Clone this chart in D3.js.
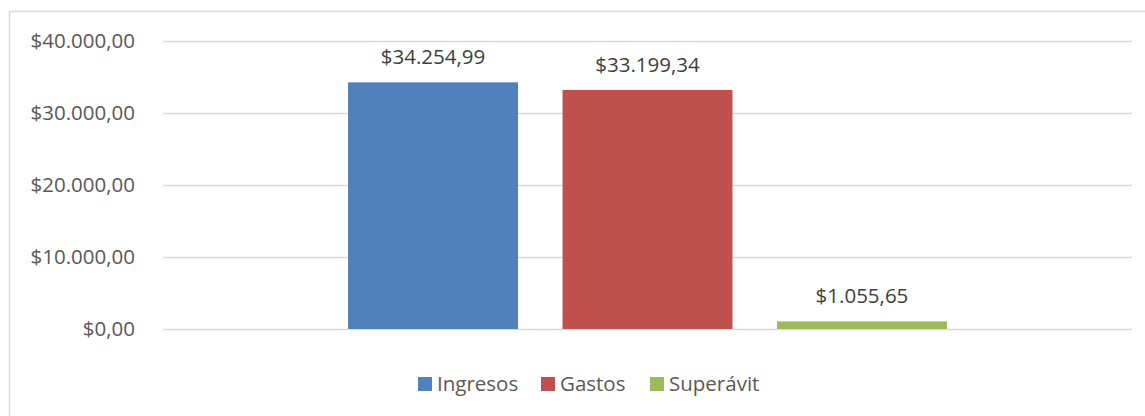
<!DOCTYPE html>
<html>
<head>
<meta charset="utf-8">
<script src="https://cdn.jsdelivr.net/npm/d3@7"></script>
<style>
  body { margin: 0; background: #fff; }
  text { font-family: "Open Sans", sans-serif; }
</style>
</head>
<body>
<div id="vis"></div>
<script>
// Chart data
const series = ["Ingresos", "Gastos", "Superávit"];
const values = [34254.99, 33199.34, 1055.65];
const colors = ["#4F81BD", "#C0504D", "#9BBB59"];
const yTicks = [0, 10000, 20000, 30000, 40000];

const width = 1145;
const height = 416;
const margin = { top: 41, right: 13, bottom: 87, left: 163 };
const fontSize = "20.5px";

const fmt = v => "$" + d3.format(",.2f")(v).replace(/,/g, "X").replace(".", ",").replace(/X/g, ".");

const svg = d3.select("#vis")
  .append("svg")
  .attr("width", width)
  .attr("height", height);

// chart area border
svg.append("rect")
  .attr("x", 9.5)
  .attr("y", 11.5)
  .attr("width", 1145)
  .attr("height", 420)
  .attr("fill", "none")
  .attr("stroke", "#D9D9D9")
  .attr("stroke-width", 1.5);

const yScale = d3.scaleLinear()
  .domain([0, 40000])
  .range([height - margin.bottom, margin.top]);

// single category, series grouped inside it
const x0 = d3.scaleBand()
  .domain(["total"])
  .range([margin.left, width - margin.right])
  .paddingInner(0)
  .paddingOuter(0.309);

const x1 = d3.scaleBand()
  .domain(series)
  .range([0, x0.bandwidth()])
  .paddingInner(0.2075)
  .paddingOuter(0);

// Grid + y labels
svg.append("g")
  .attr("transform", `translate(${margin.left},0)`)
  .call(d3.axisLeft(yScale).tickValues(yTicks)
    .tickSize(-(width - margin.left - margin.right))
    .tickPadding(28)
    .tickFormat(fmt))
  .call(g => g.select(".domain").remove())
  .call(g => g.selectAll("line").attr("stroke", "#D9D9D9").attr("stroke-width", 1.3))
  .call(g => g.selectAll("text")
    .attr("fill", "#595959")
    .attr("font-size", fontSize)
    .style("font-family", "'Open Sans', sans-serif"));

// Bars
const grp = svg.append("g")
  .attr("transform", `translate(${x0("total")},0)`);

grp.selectAll("rect")
  .data(values)
  .enter()
  .append("rect")
  .attr("x", (d, i) => x1(series[i]))
  .attr("y", d => yScale(d))
  .attr("width", x1.bandwidth())
  .attr("height", d => yScale(0) - yScale(d))
  .attr("fill", (d, i) => colors[i]);

// Value labels
grp.selectAll("text.val")
  .data(values)
  .enter()
  .append("text")
  .attr("class", "val")
  .attr("x", (d, i) => x1(series[i]) + x1.bandwidth() / 2)
  .attr("y", d => yScale(d) - 18)
  .attr("text-anchor", "middle")
  .attr("fill", "#404040")
  .attr("font-size", fontSize)
  .text(fmt);

// Legend
const legendX = [418, 541, 650];
const legend = svg.append("g");
series.forEach((s, i) => {
  legend.append("rect")
    .attr("x", legendX[i])
    .attr("y", 377)
    .attr("width", 14)
    .attr("height", 14)
    .attr("fill", colors[i]);
  legend.append("text")
    .attr("x", legendX[i] + 19)
    .attr("y", 391)
    .attr("fill", "#595959")
    .attr("font-size", fontSize)
    .text(s);
});
</script>
</body>
</html>
